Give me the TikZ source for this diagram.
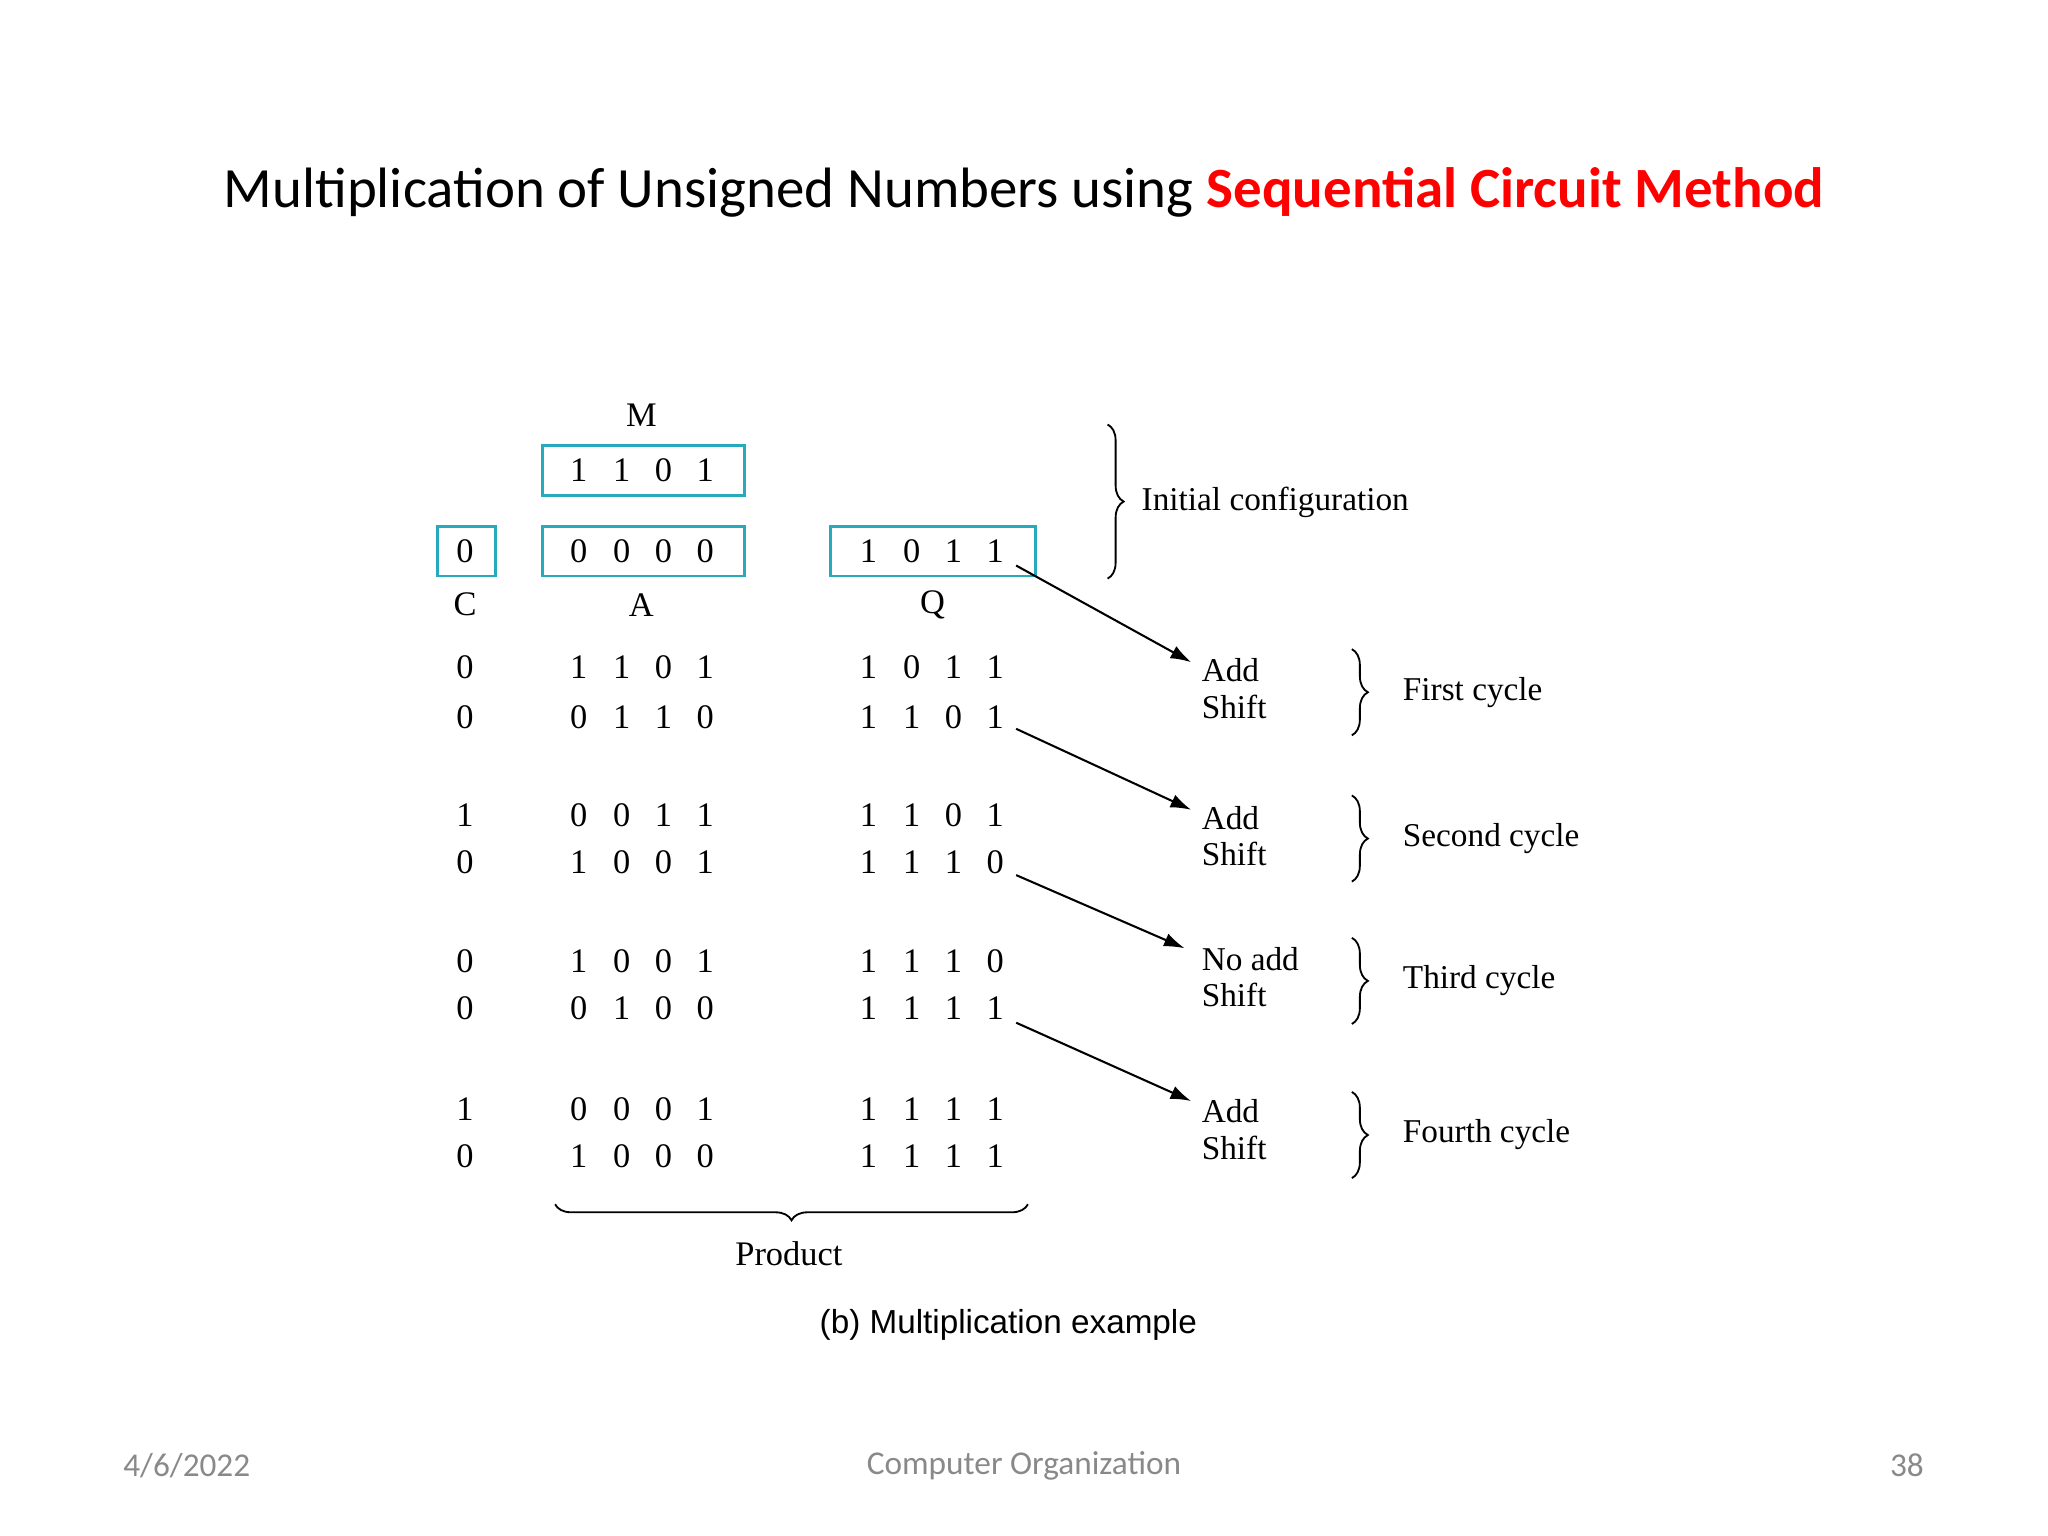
\documentclass[tikz,border=0pt]{standalone}
\usepackage{fontspec}
\setmainfont{Liberation Serif}
\newfontfamily\carfont{Carlito}
\newfontfamily\arifont{Liberation Sans}
\usetikzlibrary{decorations.pathreplacing,arrows.meta}
\definecolor{boxc}{RGB}{40,170,190}
\definecolor{foot}{RGB}{137,137,137}
\tikzset{reg/.style={draw=boxc,line width=1.3pt,minimum height=0.76cm,inner sep=0pt},
 dig/.style={font=\fontsize{15}{15}\selectfont},
 lab/.style={font=\fontsize{14.5}{15}\selectfont,anchor=west,inner sep=1pt},
 arr/.style={-{Latex[length=9pt,width=6pt]},line width=0.9pt},
 br/.style={decorate,decoration={brace,amplitude=7pt},line width=0.8pt}}
\begin{document}
\begin{tikzpicture}[x=0.02cm,y=-0.02cm]
\useasboundingbox (0,0) rectangle (1568,1176);
\node (title) at (784,147) {\carfont\fontsize{24.8}{25}\selectfont Multiplication of Unsigned Numbers using \textcolor{red}{\bfseries Sequential Circuit Method}};
% registers
\node[dig] (M) at (491,318) {M};
\node[reg,minimum width=3.1cm] (mb) at (492.5,360) {};
\node[reg,minimum width=0.88cm] (cb) at (357,422) {};
\node[reg,minimum width=3.1cm] (ab) at (492.5,422) {};
\node[reg,minimum width=3.14cm] (qb) at (714.5,422) {};
\node[dig] (C) at (356,463) {C};
\node[dig] (A) at (491,463) {A};
\node[dig] (Q) at (714,463) {Q};
\foreach \y/\c/\a/\b/\cc/\d/\q/\r/\s/\t [count=\i] in {
 360/{}/1/1/0/1/{}/{}/{}/{},
 422/0/0/0/0/0/1/0/1/1,
 511/0/1/1/0/1/1/0/1/1,
 549/0/0/1/1/0/1/1/0/1,
 624/1/0/0/1/1/1/1/0/1,
 660/0/1/0/0/1/1/1/1/0,
 736/0/1/0/0/1/1/1/1/0,
 772/0/0/1/0/0/1/1/1/1,
 849/1/0/0/0/1/1/1/1/1,
 885/0/1/0/0/0/1/1/1/1}{
 \node[dig] (c\i) at (356,\y) {\c};
 \node[dig] (a\i) at (443,\y) {\a};
 \node[dig] (b\i) at (476,\y) {\b};
 \node[dig] (cc\i) at (508,\y) {\cc};
 \node[dig] (d\i) at (540,\y) {\d};
 \node[dig] (q\i) at (665,\y) {\q};
 \node[dig] (r\i) at (698,\y) {\r};
 \node[dig] (s\i) at (730,\y) {\s};
 \node[dig] (t\i) at (762,\y) {\t};
}
% operations
\foreach \y/\t [count=\i] in {513/Add,626/Add,734/No add,851/Add}{
 \node[lab] (op\i) at (918,\y) {\t};
 \node[lab] (sh\i) at (918,\y+28) {Shift};
}
\coordinate (e1) at (912,507); \coordinate (e2) at (912,620);
\coordinate (e3) at (907,726); \coordinate (e4) at (912,843);
\coordinate (p1) at (778,433); \coordinate (p2) at (778,558);
\coordinate (p3) at (778,670); \coordinate (p4) at (778,783);
\foreach \i in {1,2,3,4} \draw[arr] (p\i) -- (e\i);
% braces
\draw[br] (848,325) -- (848,443);
\node[lab] (init) at (872,385) {Initial configuration};
\foreach \y/\t [count=\i] in {530/First cycle,642/Second cycle,751/Third cycle,869/Fourth cycle}{
 \draw[br] (1035,\y-33) -- (1035,\y+33);
 \node[lab] (cy\i) at (1072,\y) {\t};
}
\draw[br] (787,922) -- (425,922);
\node[dig] (prod) at (604,960) {Product};
\node (cap) at (772,1014) {\arifont\fontsize{14.5}{15}\selectfont (b) Multiplication example};
% footer
\node[text=foot] (f1) at (143,1122) {\carfont\fontsize{14.5}{15}\selectfont 4/6/2022};
\node[text=foot] (f2) at (784,1122) {\carfont\fontsize{14.5}{15}\selectfont Computer Organization};
\node[text=foot] (f3) at (1460,1122) {\carfont\fontsize{14.5}{15}\selectfont 38};
\end{tikzpicture}
\end{document}
